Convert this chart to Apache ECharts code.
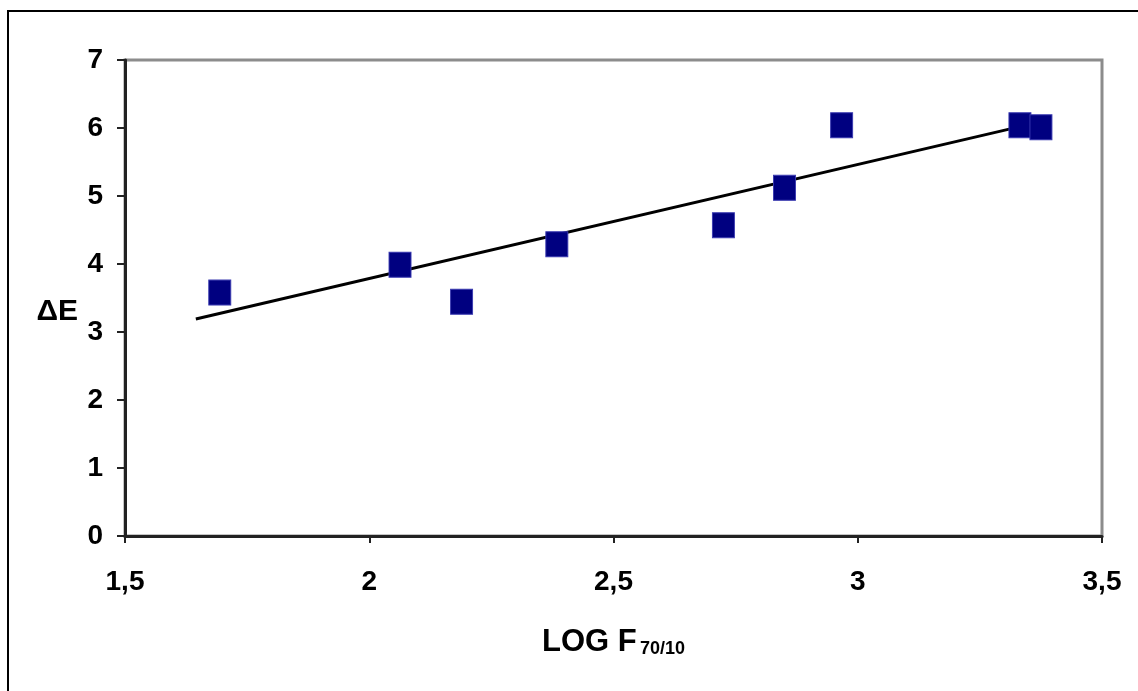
<!DOCTYPE html>
<html>
<head>
<meta charset="utf-8">
<script src="https://cdn.jsdelivr.net/npm/echarts@6/dist/echarts.min.js"></script>
<style>
html,body{margin:0;padding:0;background:#fff;}
#chart{width:1138px;height:691px;}
</style>
</head>
<body>
<div id="chart"></div>
<script>
// Data
var logF = [1.694, 2.063, 2.189, 2.384, 2.725, 2.850, 2.967, 3.332, 3.375];
var deltaE = [3.58, 3.99, 3.445, 4.29, 4.57, 5.12, 6.04, 6.04, 6.01];
var trendX = [1.645, 3.332];
var trendY = [3.19, 6.02];
var xTicks = [1.5, 2, 2.5, 3, 3.5];
var yTicks = [0, 1, 2, 3, 4, 5, 6, 7];

var points = logF.map(function (x, i) { return [x, deltaE[i]]; });
var trend = trendX.map(function (x, i) { return [x, trendY[i]]; });

var chart = echarts.init(document.getElementById('chart'), null, {renderer: 'canvas'});
var font = '"Liberation Sans", Arial, sans-serif';

chart.setOption({
  animation: false,
  backgroundColor: '#fff',
  graphic: [{
    type: 'rect',
    shape: {x: 8, y: 11, width: 1200, height: 800},
    style: {fill: null, stroke: '#000', lineWidth: 2},
    silent: true
  }],
  grid: {
    left: 125, right: 36, top: 60, bottom: 155,
    containLabel: false,
    outerBoundsMode: 'none',
    show: true,
    borderColor: '#8c8c8c',
    borderWidth: 3,
    backgroundColor: 'transparent'
  },
  xAxis: {
    type: 'value',
    min: xTicks[0], max: xTicks[xTicks.length - 1], interval: 0.5,
    splitLine: {show: false},
    axisLine: {show: true, onZero: false, lineStyle: {color: '#222', width: 3}},
    axisTick: {show: true, inside: false, length: 7, lineStyle: {color: '#222', width: 2}},
    axisLabel: {
      margin: 32,
      color: '#000', fontFamily: font, fontWeight: 'bold', fontSize: 28,
      formatter: function (v) { return String(v).replace('.', ','); }
    },
    name: '{a|LOG F} {b|70/10}',
    nameLocation: 'middle',
    nameGap: 90,
    nameTextStyle: {
      rich: {
        a: {fontFamily: font, fontWeight: 'bold', fontSize: 31, color: '#000'},
        b: {fontFamily: font, fontWeight: 'bold', fontSize: 18, color: '#000', padding: [14, 0, 0, 0]}
      }
    }
  },
  yAxis: {
    type: 'value',
    min: yTicks[0], max: yTicks[yTicks.length - 1], interval: 1,
    splitLine: {show: false},
    axisLine: {show: true, onZero: false, lineStyle: {color: '#222', width: 3}},
    axisTick: {show: true, inside: false, length: 8, lineStyle: {color: '#222', width: 2}},
    axisLabel: {
      margin: 22,
      color: '#000', fontFamily: font, fontWeight: 'bold', fontSize: 28
    },
    name: '{d|ΔE}',
    nameLocation: 'middle',
    nameRotate: 0,
    nameGap: 47,
    nameTextStyle: {
      align: 'right', verticalAlign: 'middle',
      rich: {
        d: {fontFamily: font, fontWeight: 'bold', fontSize: 30, color: '#000', padding: [28, 0, 0, 0]}
      }
    }
  },
  series: [{
    type: 'line',
    data: trend,
    showSymbol: false,
    symbol: 'none',
    lineStyle: {color: '#000', width: 3},
    z: 2,
    silent: true
  }, {
    type: 'scatter',
    data: points,
    symbol: 'rect',
    symbolSize: [22, 25],
    itemStyle: {color: '#000080', borderColor: '#3a3ab0', borderWidth: 1, opacity: 1},
    z: 3
  }]
});
</script>
</body>
</html>
